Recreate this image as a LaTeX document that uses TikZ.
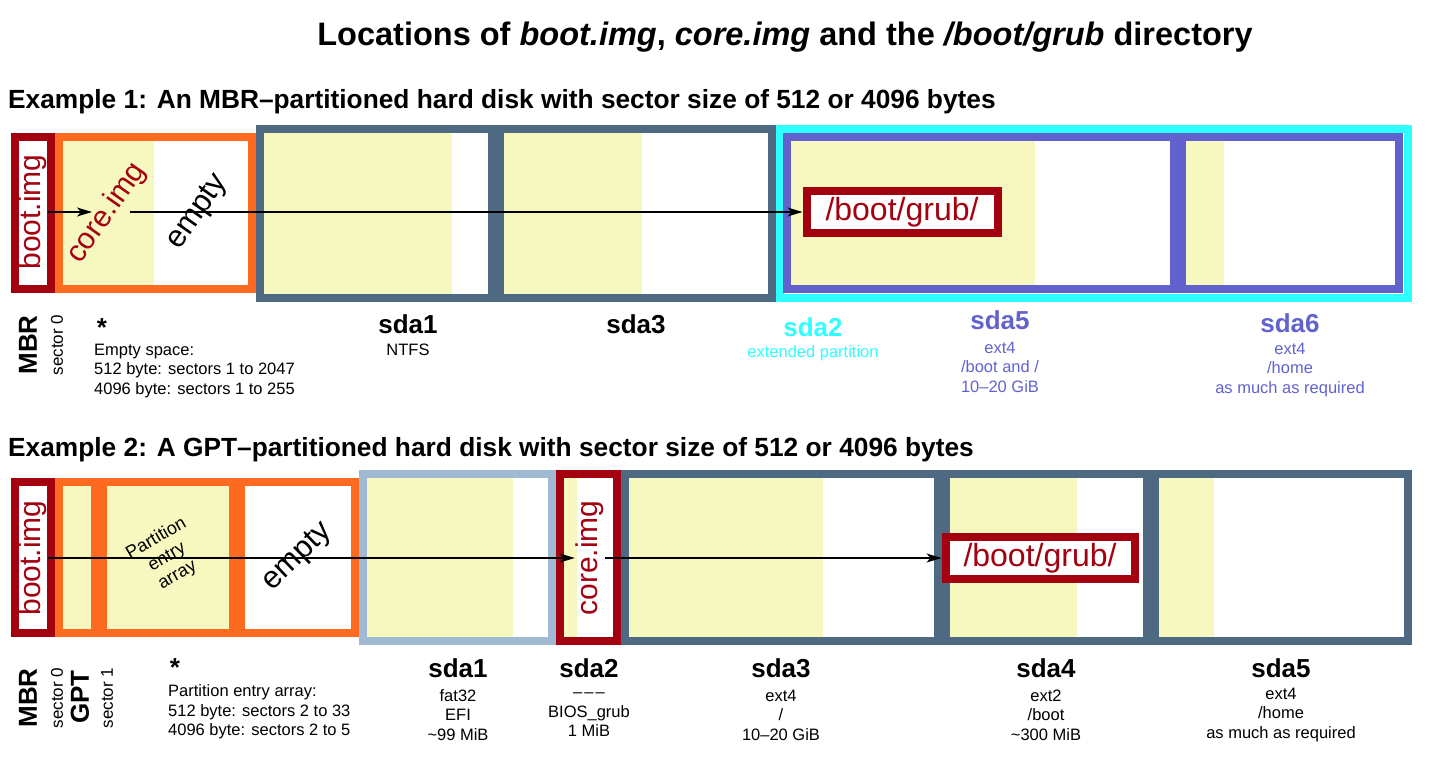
\documentclass[tikz,border=0pt]{standalone}
\usepackage{fontspec}
\setmainfont{Liberation Sans}
\usetikzlibrary{arrows.meta}

\definecolor{dred}{RGB}{163,0,16}
\definecolor{orng}{RGB}{255,106,33}
\definecolor{steel}{RGB}{78,106,130}
\definecolor{cyn}{RGB}{46,255,255}
\definecolor{purp}{RGB}{98,98,207}
\definecolor{lblue}{RGB}{160,186,211}
\definecolor{yel}{RGB}{247,247,192}

\begin{document}
\begin{tikzpicture}[x=1pt, y=-1pt,
  frame/.style={line width=8pt},
  title/.style={font=\fontsize{32.5}{38}\selectfont\bfseries},
  heading/.style={font=\fontsize{26.3}{30}\selectfont\bfseries, inner sep=0pt},
  part/.style={font=\fontsize{26}{30}\selectfont\bfseries},
  info/.style={font=\fontsize{16.5}{19.5}\selectfont, align=center},
  img/.style={font=\fontsize{30}{36}\selectfont, text=dred, inner sep=1pt},
  emptytxt/.style={font=\fontsize{31}{36}\selectfont},
  sector/.style={font=\fontsize{17}{20}\selectfont, rotate=90},
  grub/.style={draw=dred, line width=8pt, fill=white, text=dred, inner sep=0pt,
    font=\fontsize{32}{36}\selectfont},
  arr/.style={-{Stealth[length=15pt, width=9pt, inset=4pt]}, line width=1.5pt}]

\useasboundingbox (0,0) rectangle (1440,762);

% titolo
\node[title, anchor=base] (titolo) at (785,46)
  {Locations of \textit{boot.img}, \textit{core.img} and the \textit{/boot/grub} directory};

% ---------------- esempio 1: MBR ----------------
\node[heading, anchor=base west] (head1) at (8,109)
  {Example 1: An MBR–partitioned hard disk with sector size of 512 or 4096 bytes};

% zone occupate
\fill[yel] (63,141) rectangle (154,285);
\fill[yel] (264,133) rectangle (452,294);
\fill[yel] (504,133) rectangle (642,294);
\fill[yel] (791,141) rectangle (1035,285);
\fill[yel] (1186,141) rectangle (1224,285);

% cornici
\draw[frame, dred] (15,137) rectangle (51,289);
\draw[frame, orng] (59,137) rectangle (252,289);
\draw[frame, steel] (260,129) rectangle (492,298);
\draw[frame, steel] (500,129) rectangle (772,298);
\draw[frame, cyn] (780,129) rectangle (1408,298);
\draw[frame, purp] (787,137) rectangle (1174,289);
\draw[frame, purp] (1182,137) rectangle (1399,289);

% testi nelle cornici
\node[img, rotate=90] (boot1) at (33,212) {boot.img};
\node[img, rotate=55] (core1) at (107,213) {core.img};
\node[emptytxt, rotate=55] (empty1) at (198,212) {empty};
\node[grub, minimum width=191pt, minimum height=42pt] (grub1) at (902,212) {/boot/grub/};

% frecce
\coordinate (core1in) at (92,212);
\coordinate (core1out) at (130,212);
\draw[arr] (boot1.south) -- (core1in);
\draw[arr] (core1out) -- (grub1.west);

% etichette
\node[part, rotate=90] (mbr1) at (28,345) {MBR};
\node[sector] (sec1) at (57,345) {sector 0};
\node[part, anchor=base] (star1) at (102,336) {*};
\node[info, align=left, anchor=west, inner sep=0pt] (gap1) at (94,371)
  {Empty space:\\512 byte: sectors 1 to 2047\\4096 byte: sectors 1 to 255};
\node[part] (name1a) at (408,324) {sda1};
\node[info] at (408,350) {NTFS};
\node[part] (name1c) at (636,324) {sda3};
\node[part, text=cyn] (name1b) at (813,327) {sda2};
\node[info, text=cyn] at (813,353) {extended partition};
\node[part, text=purp] (name1e) at (1000,320) {sda5};
\node[info, text=purp] at (1000,367) {ext4\\/boot and /\\10–20 GiB};
\node[part, text=purp] (name1f) at (1290,323) {sda6};
\node[info, text=purp] at (1290,370) {ext4\\/home\\as much as required};

% ---------------- esempio 2: GPT ----------------
\node[heading, anchor=base west] (head2) at (8,456)
  {Example 2: A GPT–partitioned hard disk with sector size of 512 or 4096 bytes};

% zone occupate
\fill[yel] (63,486) rectangle (91,629);
\fill[yel] (107,486) rectangle (229,629);
\fill[yel] (367,478) rectangle (513,637);
\fill[yel] (564,478) rectangle (577,637);
\fill[yel] (629,478) rectangle (823,637);
\fill[yel] (950,478) rectangle (1077,637);
\fill[yel] (1159,478) rectangle (1214,637);

% cornici
\draw[frame, dred] (15,482) rectangle (51,633);
\draw[frame, orng] (59,482) rectangle (95,633);
\draw[frame, orng] (103,482) rectangle (233,633);
\draw[frame, orng] (241,482) rectangle (355,633);
\draw[frame, lblue] (363,474) rectangle (552,641);
\draw[frame, dred] (560,474) rectangle (617,641);
\draw[frame, steel] (625,474) rectangle (938,641);
\draw[frame, steel] (946,474) rectangle (1147,641);
\draw[frame, steel] (1155,474) rectangle (1408,641);

% testi nelle cornici
\node[img, rotate=90] (boot2) at (33,558) {boot.img};
\node[info, font=\fontsize{18}{21}\selectfont, rotate=30] (pea2) at (167,557)
  {Partition\\entry\\array};
\node[emptytxt, rotate=44] (empty2) at (298,557) {empty};
\node[img, rotate=90] (core2) at (590,558) {core.img};
\node[grub, minimum width=189pt, minimum height=42pt] (grub2) at (1040,558) {/boot/grub/};

% frecce
\draw[arr] (boot2.south) -- (core2.north);
\draw[arr] (core2.south) -- (grub2.west);

% etichette
\node[part, rotate=90] (mbr2) at (28,698) {MBR};
\node[sector] (sec2a) at (57,698) {sector 0};
\node[part, rotate=90] (gpt2) at (80,697) {GPT};
\node[sector] (sec2b) at (107,698) {sector 1};
\node[part, anchor=base] (star2) at (175,676) {*};
\node[info, align=left, anchor=west, inner sep=0pt] (gap2) at (168,712)
  {Partition entry array:\\512 byte: sectors 2 to 33\\4096 byte: sectors 2 to 5};
\node[part] (name2a) at (458,668) {sda1};
\node[info] at (458,715) {fat32\\EFI\\\textasciitilde99 MiB};
\node[part] (name2b) at (589,668) {sda2};
\node[info] at (589,715) {–\kern2pt–\kern2pt–\\BIOS\_grub\\1 MiB};
\node[part] (name2c) at (781,668) {sda3};
\node[info] at (781,715) {ext4\\/\\10–20 GiB};
\node[part] (name2d) at (1046,668) {sda4};
\node[info] at (1046,715) {ext2\\/boot\\\textasciitilde300 MiB};
\node[part] (name2e) at (1281,668) {sda5};
\node[info] at (1281,715) {ext4\\/home\\as much as required};

\end{tikzpicture}
\end{document}
